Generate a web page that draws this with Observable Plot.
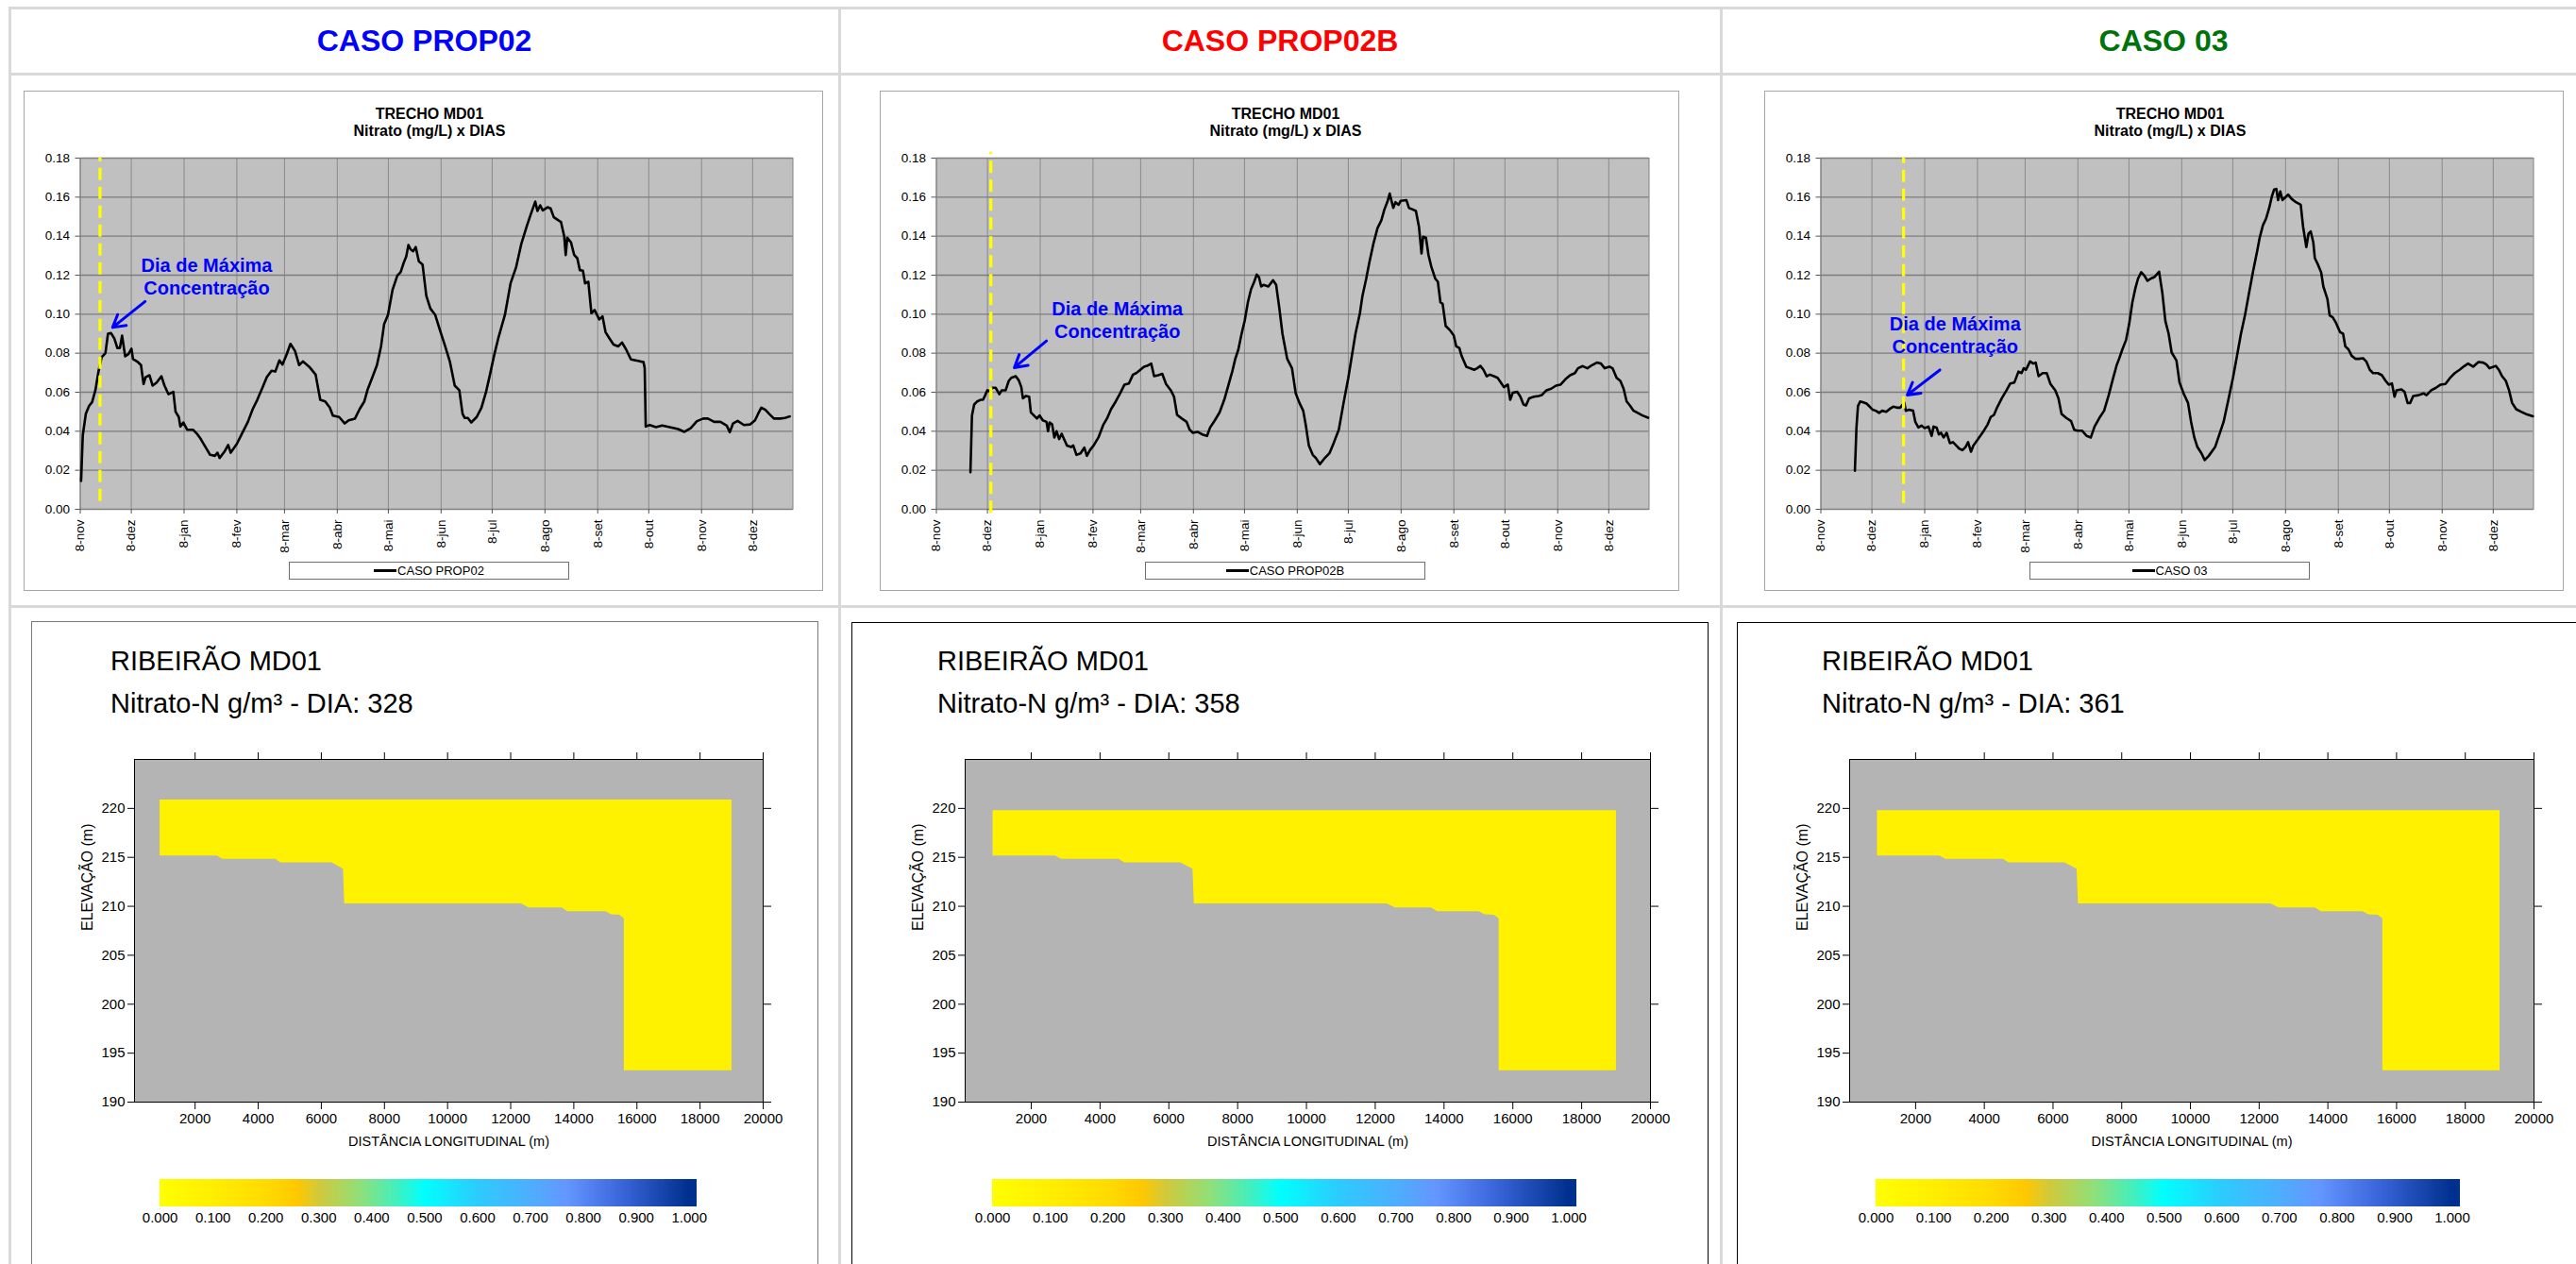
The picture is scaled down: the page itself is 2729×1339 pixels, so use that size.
<!DOCTYPE html>
<html>
<head>
<meta charset="utf-8">
<script src="https://cdn.jsdelivr.net/npm/d3@7"></script>
<script src="https://cdn.jsdelivr.net/npm/@observablehq/plot@0.6"></script>
<style>
  html, body { margin: 0; padding: 0; background: #ffffff; }
  body { width: 2729px; height: 1339px; overflow: hidden; position: relative; font-family: 'Liberation Sans', Arial, Helvetica, sans-serif; }
  #root { position: absolute; left: 0; top: 0; width: 2729px; height: 1339px; }
</style>
</head>
<body>
<div id="root"></div>
<script>
// ---------------- DATA ----------------
const caseNames = ["CASO PROP02", "CASO PROP02B", "CASO 03"];
const caseColors = ["#0000ff", "#ff0000", "#00720a"];
const chartTitle = ["TRECHO MD01", "Nitrato (mg/L) x DIAS"];
const monthLabels = ["8-nov","8-dez","8-jan","8-fev","8-mar","8-abr","8-mai","8-jun","8-jul","8-ago","8-set","8-out","8-nov","8-dez"];
const monthTickDates = ["2006-11-08","2006-12-08","2007-01-08","2007-02-08","2007-03-08","2007-04-08","2007-05-08","2007-06-08","2007-07-08","2007-08-08","2007-09-08","2007-10-08","2007-11-08","2007-12-08"];
const xDomainDates = ["2006-11-08", "2007-12-31T16:00"];
const nitrateTicks = [0, 0.02, 0.04, 0.06, 0.08, 0.10, 0.12, 0.14, 0.16, 0.18];

// [days after 8-nov, nitrate mg/L]
const seriesProp02 = [[0.5,0.0145],[1.5,0.038],[3.3,0.049],[5.2,0.053],[7,0.055],[8.9,0.061],[10.7,0.0706],[12.6,0.078],[14.8,0.080],[16.3,0.090],[18.1,0.0903],[20,0.0876],[21.8,0.0827],[23.3,0.0827],[24.6,0.089],[26.4,0.0784],[28.3,0.0795],[30.1,0.0823],[31,0.077],[33.8,0.0755],[35.7,0.0739],[37.2,0.0642],[38.4,0.0677],[40.7,0.0687],[42.5,0.0634],[44.9,0.065],[47.7,0.0682],[49.5,0.0634],[51.8,0.059],[54.7,0.0602],[56,0.05],[57.9,0.0473],[58.8,0.0424],[60.6,0.0445],[62.8,0.0408],[66.2,0.0408],[68.9,0.0384],[70.8,0.036],[73.6,0.0319],[76.3,0.0279],[79.1,0.0274],[80.6,0.029],[81.9,0.0263],[84.7,0.0295],[86.9,0.033],[88.4,0.029],[92,0.0335],[95.7,0.04],[98.5,0.0448],[101.3,0.0513],[104,0.0561],[106.8,0.0618],[109.6,0.0677],[112.4,0.071],[114.6,0.0706],[117,0.0763],[118.8,0.0742],[121.3,0.0795],[123.5,0.0848],[126.2,0.0811],[128.6,0.0739],[130.8,0.0758],[134.6,0.073],[138.3,0.069],[141,0.0561],[143.9,0.0553],[146.6,0.0521],[148.4,0.048],[152.1,0.0473],[155.4,0.044],[157.7,0.0456],[161.4,0.0465],[164.1,0.0513],[166.9,0.0553],[168.8,0.0613],[171.5,0.0674],[174.3,0.0739],[176.7,0.0835],[178.5,0.0948],[180.8,0.0997],[183.5,0.1126],[186.3,0.1198],[188.2,0.1215],[190,0.1263],[191.5,0.1295],[192.8,0.1355],[194.1,0.1332],[195.6,0.1323],[197.1,0.1344],[198.9,0.1271],[201.1,0.1255],[203.3,0.1094],[205.7,0.1029],[208.5,0.0997],[211.3,0.0919],[214.4,0.0835],[217.2,0.0755],[220,0.0634],[222.7,0.061],[224.6,0.0489],[225.9,0.0468],[227.7,0.0468],[229.7,0.0445],[232.9,0.0473],[235.7,0.0521],[238.4,0.0602],[240.7,0.069],[243.1,0.0787],[245.8,0.0884],[249.5,0.0997],[252.8,0.1158],[256,0.1239],[259.1,0.136],[262.5,0.1456],[264.7,0.1513],[267.3,0.1577],[268.6,0.1529],[270.2,0.1558],[271.7,0.1532],[274.5,0.1548],[276.3,0.1542],[278.2,0.1497],[280.9,0.1481],[282.4,0.1473],[284.3,0.14],[285.2,0.1303],[286.1,0.1392],[288.3,0.1368],[290.2,0.1303],[292,0.1287],[293.5,0.1226],[295.3,0.1223],[296.6,0.1158],[298.5,0.1166],[300.3,0.1005],[302.2,0.1021],[304.9,0.0973],[306.8,0.0989],[308.6,0.0908],[310.9,0.0876],[313.3,0.0844],[316.1,0.0835],[318.3,0.0855],[320.7,0.0819],[323.5,0.0768],[326.2,0.0763],[329,0.0758],[330.9,0.0755],[331.6,0.0723],[332.2,0.0424],[334.5,0.0432],[338.2,0.0421],[341.9,0.0429],[347.5,0.0419],[351.2,0.0411],[354.9,0.0397],[358.6,0.0416],[362.3,0.0452],[366,0.0465],[368.7,0.0465],[372.4,0.0448],[376.1,0.0448],[379.8,0.0429],[381.6,0.0395],[383.5,0.044],[386.2,0.0453],[389.9,0.0432],[393.6,0.0435],[396.4,0.0456],[398.2,0.0489],[400.1,0.0521],[402.5,0.051],[404.7,0.0489],[407.5,0.0465],[411.2,0.0465],[414,0.0468],[416.8,0.0476]];

const seriesProp02B = [[20,0.019],[20.9,0.048],[22.2,0.0537],[24,0.0553],[25.9,0.0561],[27.4,0.0561],[28.7,0.0585],[29.9,0.061],[31.4,0.0606],[32.9,0.0623],[34.8,0.0623],[37,0.059],[38.4,0.061],[40.7,0.061],[42.5,0.0658],[44,0.0674],[46.6,0.0682],[48.4,0.0661],[49.9,0.0626],[50.8,0.0569],[52.7,0.0581],[54.5,0.0577],[55.5,0.0497],[57.3,0.0481],[59.1,0.0465],[60.6,0.0481],[62.5,0.0456],[64.7,0.0448],[65.6,0.04],[66.5,0.0445],[68,0.0435],[69.3,0.0368],[70.6,0.04],[72.1,0.036],[73.6,0.0387],[75.4,0.0352],[76.7,0.0327],[79.1,0.0319],[80.4,0.0327],[82.3,0.0279],[84.7,0.0287],[86.9,0.0316],[88.4,0.0274],[90.2,0.0303],[92.4,0.0327],[95.2,0.0368],[98,0.0432],[100.2,0.0465],[102.6,0.0513],[105.4,0.0553],[108.1,0.0597],[110.5,0.0639],[113.1,0.0645],[115.5,0.069],[117.4,0.0698],[119.8,0.0715],[122,0.0731],[123.8,0.0735],[126.2,0.0747],[127.9,0.0682],[130.3,0.0687],[132.7,0.0694],[134.9,0.0642],[137.7,0.061],[139.6,0.0577],[141.4,0.0484],[144.2,0.0465],[147,0.0448],[148.8,0.0408],[150.7,0.0392],[153.4,0.0397],[156.2,0.0384],[159,0.0376],[160.8,0.0419],[163.6,0.0456],[166.4,0.0497],[169.1,0.0561],[171.5,0.0634],[173.8,0.0706],[175.6,0.0771],[177.4,0.0819],[179.3,0.09],[181.1,0.0965],[183,0.1061],[184.8,0.1126],[186.7,0.1166],[188.2,0.1203],[189.5,0.119],[190.8,0.1142],[192.2,0.115],[195,0.1142],[197.8,0.1174],[199.6,0.115],[201.5,0.1029],[203.3,0.09],[206.1,0.0771],[208.9,0.0723],[211.1,0.0594],[213.3,0.0545],[215.5,0.0505],[217,0.0432],[218.8,0.0327],[221.1,0.0279],[222.9,0.0263],[225.3,0.0231],[227.7,0.0258],[230.9,0.0287],[233.6,0.0344],[236.4,0.0408],[239.2,0.0545],[242,0.0674],[243.8,0.0771],[246.2,0.09],[248.8,0.1005],[250.3,0.1094],[252.5,0.1182],[254.3,0.1263],[256.7,0.136],[259.1,0.144],[261.4,0.1481],[263.2,0.1537],[265,0.1577],[266.3,0.1618],[268.4,0.1545],[269.7,0.1574],[271.5,0.1561],[272.8,0.1581],[276.1,0.1585],[277.6,0.1545],[279.8,0.1537],[281.7,0.1529],[283.5,0.1448],[285,0.1311],[285.9,0.1397],[287.6,0.1392],[289.1,0.1303],[290.9,0.1239],[293.1,0.1182],[294.6,0.1166],[296.1,0.1061],[297.4,0.1053],[299.2,0.094],[301.6,0.0919],[303.9,0.0892],[305.4,0.0835],[307.2,0.0827],[308.5,0.0787],[311.3,0.0731],[313.5,0.0723],[315.9,0.0715],[317.7,0.0723],[319.6,0.0735],[321.4,0.0715],[323.3,0.0682],[325.1,0.069],[327.5,0.0682],[329.7,0.0674],[331.6,0.065],[333.4,0.0626],[335.7,0.0639],[337.1,0.0561],[338.6,0.0597],[341.2,0.0602],[343.1,0.0577],[344.9,0.0537],[346.4,0.0532],[348.2,0.0569],[351,0.0577],[353.8,0.0581],[355.6,0.0585],[358.4,0.061],[361.2,0.0618],[364,0.0634],[366.7,0.0639],[369.5,0.0666],[372.3,0.0687],[375.1,0.0698],[376.9,0.0723],[379.7,0.0734],[382.4,0.0723],[385.2,0.0739],[388,0.0752],[390.4,0.0747],[392.6,0.0723],[395.4,0.0731],[397.2,0.0723],[399.6,0.0674],[401.8,0.0658],[403.7,0.0618],[405.5,0.0553],[407.4,0.0532],[409.6,0.0505],[412,0.0494],[414.8,0.0481],[418.1,0.0469]];

const seriesCaso03 = [[20,0.0198],[20.9,0.0416],[21.8,0.0529],[23.1,0.0553],[25,0.0548],[26.8,0.0542],[28.7,0.0526],[30.5,0.051],[32.3,0.0505],[34.2,0.0494],[36,0.0505],[38.4,0.05],[40.7,0.0516],[42.5,0.0526],[44.7,0.0521],[46.6,0.0521],[48.1,0.0537],[49,0.0548],[49.9,0.0505],[51.8,0.051],[54.2,0.0505],[55.5,0.0448],[57.3,0.0419],[59.1,0.0429],[61,0.0416],[63.2,0.0424],[65.1,0.0376],[66.2,0.0424],[68,0.0419],[69.3,0.0384],[70.6,0.0392],[72.1,0.0368],[73.9,0.0392],[75.8,0.0339],[77.6,0.0344],[79.5,0.0327],[81.3,0.0311],[83.2,0.0303],[85,0.0319],[86.5,0.0344],[88.2,0.0295],[89.6,0.0327],[92.4,0.036],[95.2,0.0395],[98,0.0435],[99.8,0.0473],[101.7,0.0484],[103.5,0.0521],[106.3,0.0569],[109.1,0.061],[111.3,0.0645],[113.7,0.065],[116.1,0.0706],[117.9,0.0698],[119.2,0.0723],[120.5,0.0715],[122.9,0.0758],[124.8,0.0747],[126.2,0.0752],[127.9,0.0682],[130.3,0.0698],[132.7,0.0698],[134.9,0.0642],[137.7,0.061],[139.6,0.0569],[141.4,0.0489],[144.2,0.0468],[147,0.0452],[148.8,0.0408],[150.7,0.0403],[153.4,0.0403],[156.2,0.0376],[158.6,0.0368],[160.8,0.0424],[163.6,0.0468],[166.4,0.0505],[169.1,0.0585],[171.5,0.0666],[173.8,0.0739],[175.2,0.0771],[177.1,0.0819],[179.3,0.0868],[181.1,0.0948],[183,0.1061],[184.8,0.1134],[186.3,0.1182],[188.2,0.1215],[190,0.1198],[191.9,0.1171],[193.7,0.1182],[195.9,0.119],[198.7,0.1218],[200.6,0.111],[202.4,0.0965],[204.3,0.09],[206.1,0.0803],[208.9,0.0763],[210.7,0.065],[213.1,0.0594],[215.7,0.0545],[217.5,0.0448],[219.4,0.0368],[221.2,0.0319],[223.6,0.0287],[225.5,0.0252],[227.9,0.0274],[231.6,0.0319],[233.8,0.0376],[236.6,0.0448],[239.4,0.0561],[242.1,0.0674],[244.5,0.0787],[246.8,0.09],[249.2,0.0997],[251.4,0.1102],[253.8,0.1215],[256.4,0.1327],[257.8,0.1392],[259.7,0.1456],[261.5,0.1489],[263.4,0.1545],[264.9,0.1602],[266.3,0.1639],[267.6,0.1642],[268.6,0.1585],[269.9,0.1629],[271.2,0.1585],[272.6,0.1597],[274.5,0.1613],[276.7,0.159],[279.1,0.1574],[281.9,0.1561],[283.3,0.1448],[285.2,0.1344],[286.5,0.1413],[287.8,0.1424],[289.3,0.1368],[290.2,0.1287],[292,0.1255],[293.9,0.1215],[295.2,0.1142],[297.6,0.1077],[298.9,0.0994],[300.7,0.0984],[302.6,0.0956],[305,0.0908],[306.8,0.09],[308.1,0.0835],[310,0.0819],[311.8,0.0787],[314.2,0.0771],[316.1,0.0771],[318.5,0.0774],[320.4,0.0758],[322.5,0.0715],[324.4,0.0698],[327.2,0.0698],[329.6,0.0687],[331.8,0.0658],[333.6,0.0639],[335.5,0.0645],[337,0.0577],[338.2,0.061],[341,0.0615],[342.9,0.0602],[344.7,0.0545],[346.2,0.0545],[348,0.0581],[351.2,0.0585],[354,0.0594],[355.8,0.0585],[358.6,0.061],[361.4,0.0623],[364.1,0.0639],[366.9,0.0642],[369.7,0.0674],[372.4,0.0698],[375.2,0.0715],[378,0.0734],[380.2,0.0747],[383.2,0.0731],[386.3,0.0755],[389.1,0.0752],[391,0.0742],[392.8,0.0723],[396.5,0.0735],[398.3,0.0715],[400.2,0.0682],[402.4,0.0658],[404.3,0.061],[406.1,0.0545],[408.5,0.0513],[411.3,0.05],[414,0.0489],[418.3,0.0477]];

// day of maximum concentration marker (days after 8-nov) and its vertical extent
const maxDays = [11.6, 32, 48.6];
const maxRuleBottom = [0.004, -0.002, 0.003];
const maxRuleTop = [0.18, 0.183, 0.18];
// annotation "Dia de Máxima Concentração": text centre and arrow (days, mg/L)
const annotText = "Dia de Máxima\nConcentração";
const annotDays = [74.3, 106.3, 78.9];
const annotVals = [0.1195, 0.0975, 0.0895];
const arrowFrom = [[38.1, 0.1065], [64.7, 0.0863], [69.9, 0.0714]];
const arrowTo = [[19.0, 0.0932], [45.8, 0.0726], [50.8, 0.0586]];

// bottom panels
const panelTitle = "RIBEIRÃO MD01";
const panelDays = [328, 358, 361];
const distTicks = [2000, 4000, 6000, 8000, 10000, 12000, 14000, 16000, 18000, 20000];
const elevTicks = [190, 195, 200, 205, 210, 215, 220];
const elevTicksRight = [190, 200, 210, 220];
// river bed profile (distance m, elevation m) and water surface per case
const bedDist = [890, 2700, 2880, 4550, 4720, 6340, 6700, 6740, 12340, 12580, 13630, 13810, 15020, 15190, 15450, 15560, 15600, 15600, 19010];
const bedElev = [215.15, 215.15, 214.8, 214.8, 214.45, 214.45, 213.8, 210.25, 210.25, 209.85, 209.85, 209.45, 209.45, 209.15, 209.1, 208.85, 208.7, 193.2, 193.2];
const surfaceElev = [220.85, 219.78, 219.78];
const panelConc = [0.075, 0.085, 0.085];
// colour bar
const cbTicks = [0, 0.1, 0.2, 0.3, 0.4, 0.5, 0.6, 0.7, 0.8, 0.9, 1.0];
const cbStops = [0, 0.1, 0.2, 0.26, 0.3, 0.38, 0.45, 0.5, 0.6, 0.7, 0.77, 0.87, 1.0];
const cbColors = ["#ffff00", "#ffee00", "#ffdb00", "#ffc800", "#d2c93a", "#8ee07a", "#40f0c0", "#00ffff", "#2ccbff", "#4eaeff", "#6496ff", "#3b67dc", "#00308e"];

// ---------------- LAYOUT ----------------
const FONT = "'Liberation Sans', Arial, Helvetica, sans-serif";
const root = document.getElementById("root");
function box(style, text) {
  const d = document.createElement("div");
  d.style.position = "absolute";
  Object.assign(d.style, style);
  if (text != null) d.textContent = text;
  root.appendChild(d);
  return d;
}
function place(node, left, top) {
  const w = document.createElement("div");
  w.style.position = "absolute";
  w.style.left = left + "px";
  w.style.top = top + "px";
  w.appendChild(node);
  root.appendChild(w);
  return w;
}

// table grid lines
const gridColor = "#d9d9d9";
[8, 78, 642].forEach(y => box({left: "9px", top: (y - 1) + "px", width: "2760px", height: "3px", background: gridColor}));
[10, 889, 1823].forEach(x => box({left: (x - 1) + "px", top: "7px", width: "3px", height: "1340px", background: gridColor}));

// headers
const colCenters = [449.5, 1356, 2292];
caseNames.forEach((name, i) => {
  box({left: (colCenters[i] - 300) + "px", top: "27px", width: "600px", textAlign: "center",
       font: `bold 32px ${FONT}`, lineHeight: "32px", color: caseColors[i], whiteSpace: "nowrap"}, name);
});

// line charts
const t0 = new Date(monthTickDates[0]).getTime();
const toDate = d => new Date(t0 + d * 864e5);
const tickDates = monthTickDates.map(s => new Date(s));
const labelByTime = new Map(tickDates.map((d, i) => [+d, monthLabels[i]]));
const xDomain = xDomainDates.map(s => new Date(s));
const allSeries = [seriesProp02, seriesProp02B, seriesCaso03];
const chartLefts = [25, 932, 1869];
const chartTop = 96, chartW = 848, chartH = 531;

allSeries.forEach((series, i) => {
  const left = chartLefts[i];
  box({left: left + "px", top: chartTop + "px", width: (chartW - 3) + "px", height: (chartH - 3) + "px",
       border: "1.5px solid #a6a6a6", background: "#ffffff"});
  box({left: (left + 430 - 200) + "px", top: (chartTop + 30 - 13.5) + "px", width: "400px", textAlign: "center",
       font: `bold 16px ${FONT}`, lineHeight: "16px", color: "#000"}, chartTitle[0]);
  box({left: (left + 430 - 200) + "px", top: (chartTop + 48.7 - 13.5) + "px", width: "400px", textAlign: "center",
       font: `bold 16px ${FONT}`, lineHeight: "16px", color: "#000"}, chartTitle[1]);

  const data = series.map(([d, v]) => ({date: toDate(d), v}));
  const rule = [{date: toDate(maxDays[i]), y1: maxRuleBottom[i], y2: maxRuleTop[i]}];
  const ann = [{date: toDate(annotDays[i]), v: annotVals[i], label: annotText}];
  const arr = [{x1: toDate(arrowFrom[i][0]), y1: arrowFrom[i][1], x2: toDate(arrowTo[i][0]), y2: arrowTo[i][1]}];

  const chart = Plot.plot({
    width: chartW, height: chartH,
    marginLeft: 59.5, marginRight: 33.5, marginTop: 71, marginBottom: 88,
    style: `font-family: ${FONT}; font-size: 13.5px; color: #000; background: transparent; max-width: none; overflow: visible;`,
    x: {type: "utc", domain: xDomain},
    y: {domain: [0, 0.18]},
    marks: [
      Plot.frame({fill: "#c0c0c0", stroke: null}),
      Plot.gridX(tickDates, {stroke: "#8a8a8a", strokeOpacity: 1, strokeWidth: 1}),
      Plot.gridY(nitrateTicks, {stroke: "#7c7c7c", strokeOpacity: 1, strokeWidth: 1.3}),
      Plot.frame({stroke: "#808080", strokeWidth: 1}),
      Plot.line(data, {x: "date", y: "v", stroke: "#000", strokeWidth: 2.6, strokeLinejoin: "round"}),
      Plot.ruleX(rule, {x: "date", y1: "y1", y2: "y2", stroke: "#ffff00", strokeWidth: 3.2, strokeDasharray: "13,7"}),
      Plot.arrow(arr, {x1: "x1", y1: "y1", x2: "x2", y2: "y2", stroke: "#0000ff", strokeWidth: 3, headLength: 18}),
      Plot.text(ann, {x: "date", y: "v", text: "label", fill: "#0000ff", fontWeight: "bold", fontSize: 20, lineHeight: 1.2}),
      Plot.axisY({ticks: nitrateTicks, tickFormat: d3.format(".2f"), tickSize: 5, tickPadding: 6, label: null, stroke: "#555"}),
      Plot.axisX({ticks: tickDates, tickFormat: d => labelByTime.get(+d), tickRotate: -90, tickSize: 5, tickPadding: 6, label: null, stroke: "#555"})
    ]
  });
  place(chart, left, chartTop);

  const lg = box({left: (left + 281) + "px", top: "595px", width: "295px", height: "17px",
                  border: "1px solid #6e6e6e", background: "#fff", display: "flex", alignItems: "center", justifyContent: "center"});
  const sample = document.createElement("span");
  Object.assign(sample.style, {display: "inline-block", width: "24px", height: "3px", background: "#000", marginRight: "1px"});
  const lt = document.createElement("span");
  lt.textContent = caseNames[i];
  Object.assign(lt.style, {font: `13px ${FONT}`, color: "#000"});
  lg.appendChild(sample); lg.appendChild(lt);
});

// bottom panels
const panelBoxes = [
  {left: 33, top: 658, width: 832, border: "1px solid #7a7a7a"},
  {left: 902, top: 659, width: 906, border: "1.5px solid #000"},
  {left: 1840, top: 659, width: 930, border: "1.5px solid #000"}
];
const panelPlotLeft = [142.4, 1021.8, 1958.8];
const panelPlotW = [666, 726, 725];
const panelTitleLeft = [117, 993, 1930];
const cbZero = [168.5, 1050.5, 1986.9];
const cbSpan = [560.8, 610.7, 610.5];
const bed = bedDist.map((x, k) => ({x, z: bedElev[k]}));

panelDays.forEach((day, i) => {
  const pb = panelBoxes[i];
  box({left: pb.left + "px", top: pb.top + "px", width: pb.width + "px", height: "720px", border: pb.border, background: "#fff"});
  box({left: panelTitleLeft[i] + "px", top: (710 - 24.5) + "px", font: `29px ${FONT}`, lineHeight: "29px", color: "#000", whiteSpace: "nowrap"}, panelTitle);
  box({left: panelTitleLeft[i] + "px", top: (755 - 24.5) + "px", font: `29px ${FONT}`, lineHeight: "29px", color: "#000", whiteSpace: "nowrap"}, `Nitrato-N g/m³ - DIA: ${day}`);

  const mL = 70, mR = 30, mT = 15, mB = 62, ph = 363;
  const panel = Plot.plot({
    width: panelPlotW[i] + mL + mR, height: ph + mT + mB,
    marginLeft: mL, marginRight: mR, marginTop: mT, marginBottom: mB,
    style: `font-family: ${FONT}; font-size: 15px; color: #000; background: transparent; max-width: none; overflow: visible;`,
    x: {domain: [80, 20000]},
    y: {domain: [190, 225]},
    color: {type: "linear", domain: cbStops, range: cbColors, clamp: true},
    marks: [
      Plot.frame({fill: "#b4b4b4", stroke: null}),
      Plot.areaY(bed, {x: "x", y1: "z", y2: surfaceElev[i], fill: () => panelConc[i], curve: "linear"}),
      Plot.frame({stroke: "#000", strokeWidth: 1}),
      Plot.axisY({ticks: elevTicks, tickSize: 7, tickPadding: 3, label: null}),
      Plot.axisY({anchor: "right", ticks: elevTicksRight, tickSize: 8, tickFormat: () => "", label: null}),
      Plot.axisX({ticks: distTicks, tickSize: 8, tickPadding: 4, tickFormat: d3.format("d"), label: null}),
      Plot.axisX({anchor: "top", ticks: distTicks, tickSize: 8, tickFormat: () => "", label: null}),
      Plot.text(["ELEVAÇÃO (m)"], {frameAnchor: "left", dx: -50, rotate: -90, text: d => d, fontSize: 16}),
      Plot.text(["DISTÂNCIA LONGITUDINAL (m)"], {frameAnchor: "bottom", dy: 46, text: d => d, fontSize: 14.5})
    ]
  });
  place(panel, panelPlotLeft[i] - mL, 804 - mT);

  // colour bar
  const cbL = 40, cbR = 40, barH = 29;
  const segs = d3.range(0, 1.011, 0.002).map(v => ({x1: v, x2: v + 0.004, c: Math.min(v + 0.001, 1)}));
  const cb = Plot.plot({
    width: cbSpan[i] + cbL + cbR, height: barH + 30,
    marginLeft: cbL, marginRight: cbR, marginTop: 0, marginBottom: 30,
    style: `font-family: ${FONT}; font-size: 15px; color: #000; background: transparent; max-width: none; overflow: visible;`,
    x: {domain: [0, 1], range: [cbL, cbL + cbSpan[i]]},
    y: {domain: [0, 1], axis: null},
    color: {type: "linear", domain: cbStops, range: cbColors, clamp: true},
    marks: [
      Plot.rect(segs, {x1: "x1", x2: "x2", y1: 0, y2: 1, fill: "c", shapeRendering: "crispEdges"}),
      Plot.axisX({ticks: cbTicks, tickSize: 0, tickPadding: 6, tickFormat: d3.format(".3f"), label: null})
    ]
  });
  place(cb, cbZero[i] - cbL, 1248.6);
});
</script>
</body>
</html>
